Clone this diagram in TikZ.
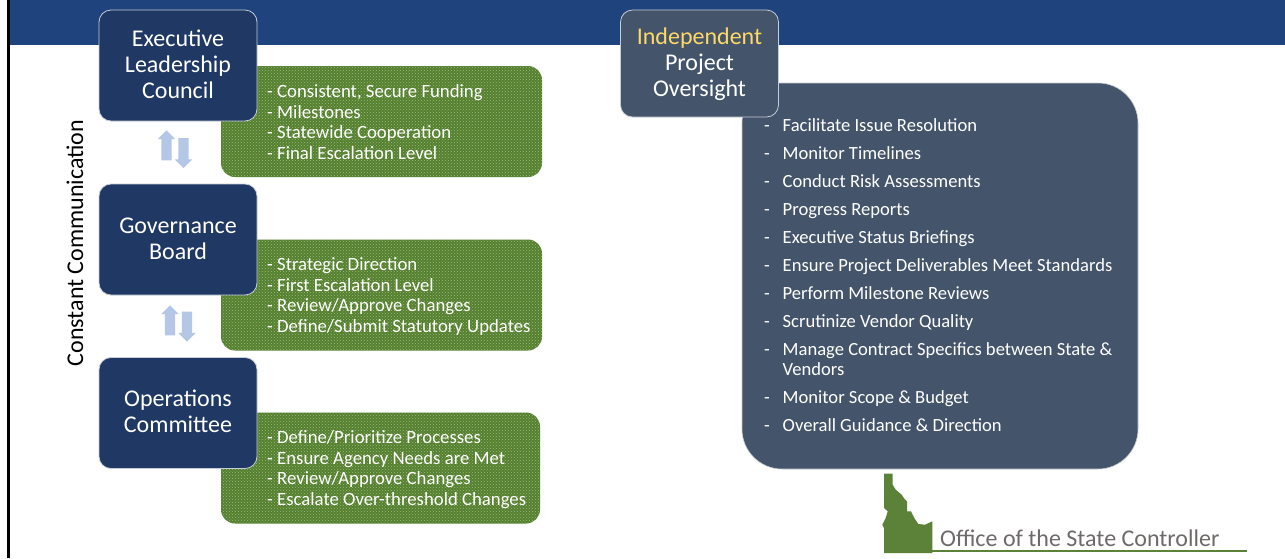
\documentclass[tikz,border=0pt]{standalone}
\usepackage{fontspec}
\setmainfont{Carlito}
\usetikzlibrary{patterns,shapes.arrows}
\definecolor{bandblue}{HTML}{1F437C}
\definecolor{navy}{HTML}{1F3864}
\definecolor{slate}{HTML}{44546A}
\definecolor{leaf}{HTML}{55802F}
\definecolor{dots}{HTML}{9ABB7C}
\definecolor{idaho}{HTML}{5B8238}
\definecolor{pale}{HTML}{B4C7E7}
\definecolor{gold}{HTML}{FFD966}
\definecolor{officegrey}{HTML}{6E6A6A}
\tikzset{
  headbox/.style={draw=white!75!navy,line width=0.8pt,rounded corners=12pt,minimum width=158pt,text=white,align=center,inner sep=0pt,font=\fontsize{24}{26}\selectfont},
  levelbox/.style={headbox,fill=navy,minimum height=111pt},
  notebox/.style={rounded corners=14pt,preaction={fill=leaf},pattern=crosshatch dots,pattern color=dots,minimum height=111pt,inner sep=0pt},
  notetext/.style={anchor=west,text=white,align=left,inner sep=0pt,font=\fontsize{18.75}{20.4}\selectfont},
  updown/.style={single arrow,fill=pale,inner sep=5pt,minimum width=17pt,minimum height=30pt,single arrow head extend=3.5pt,single arrow head indent=0pt},
  item/.style={anchor=base west,text=white,inner sep=0pt,align=left,font=\fontsize{18.6}{20}\selectfont}
}
\begin{document}
\begin{tikzpicture}[x=1pt,y=-1pt]
  \useasboundingbox (0,0) rectangle (1285,558);
  \fill[white] (0,0) rectangle (1285,558);
  \fill[bandblue] (9,0) rectangle (1285,45);
  \fill[black] (7,0) rectangle (10,558);

  \node[notebox,minimum width=321pt] (topnotes) at (381.5,121.5) {};
  \node[notebox,minimum width=321pt] (midnotes) at (381.5,295) {};
  \node[notebox,minimum width=319pt] (lownotes) at (380.5,468) {};
  \node[notetext] (toptext) at (267,122) {- Consistent, Secure Funding\\- Milestones\\- Statewide Cooperation\\- Final Escalation Level};
  \node[notetext] (midtext) at (267,296.5) {- Strategic Direction\\- First Escalation Level\\- Review/Approve Changes\\- Define/Submit Statutory Updates};
  \node[notetext] (lowtext) at (267,469.5) {- Define/Prioritize Processes\\- Ensure Agency Needs are Met\\- Review/Approve Changes\\- Escalate Over-threshold Changes};

  \node[levelbox,text depth=2pt] (council) at (178,65.5) {Executive\\Leadership\\Council};
  \node[levelbox,text depth=2pt] (board) at (178,239.5) {Governance\\Board};
  \node[levelbox,text depth=4pt] (committee) at (178,413) {Operations\\Committee};

  \node[updown,shape border rotate=90] (upone) at (166.5,148) {};
  \node[updown,shape border rotate=270] (downone) at (183.5,150.5) {};
  \node[updown,shape border rotate=90] (uptwo) at (170,323) {};
  \node[updown,shape border rotate=270] (downtwo) at (187,324) {};

  \node[rotate=90,inner sep=0pt,font=\fontsize{24}{26}\selectfont] (constant) at (75,243) {Constant Communication};

  \node[draw=white!70!slate,fill=slate,rounded corners=40pt,minimum width=396pt,minimum height=386pt,line width=0.6pt] (oversight) at (940,276) {};
  \node[headbox,fill=slate,minimum height=107pt,text depth=3.5pt] (independent) at (699.5,63.5) {\textcolor{gold}{Independent}\\Project\\Oversight};

  \foreach \i/\y/\txt in {1/131/Facilitate Issue Resolution,2/159/Monitor Timelines,3/187/Conduct Risk Assessments,4/215/Progress Reports,5/243/Executive Status Briefings,6/271/Ensure Project Deliverables Meet Standards,7/299/Perform Milestone Reviews,8/327/Scrutinize Vendor Quality,10/403/Monitor Scope \& Budget,11/431/Overall Guidance \& Direction}
    \node[item] (item\i) at (764,\y) {\makebox[18.5pt][l]{-}\txt};
  \node[item] (item9) at (764,375) {\makebox[18.5pt][l]{-}Manage Contract Specifics between State \&\\\makebox[18.5pt][l]{}Vendors};

  \fill[idaho] (884,473.7) -- (892.7,473.7) -- (892.7,484.7) -- (895.7,489.7) -- (901.7,494.7) -- (904.3,498.7) -- (907,501.3) -- (907,511.3) -- (911,511.3) -- (914.3,518) -- (918.3,524) -- (925,524.7) -- (932.3,521.3) -- (932.3,553) -- (884,553) -- (884,528) -- (882.3,524.7) -- (885.7,518) -- (887.7,511.3) -- (884,508) -- cycle;
  \node[anchor=base west,inner sep=0pt,text=officegrey,font=\fontsize{24}{26}\selectfont] (office) at (940,546) {Office of the State Controller};
  \coordinate (ruleleft) at (932,551);
  \coordinate (ruleright) at (1247,551);
  \draw[idaho,line width=2pt] (ruleleft) -- (ruleright);
\end{tikzpicture}
\end{document}
